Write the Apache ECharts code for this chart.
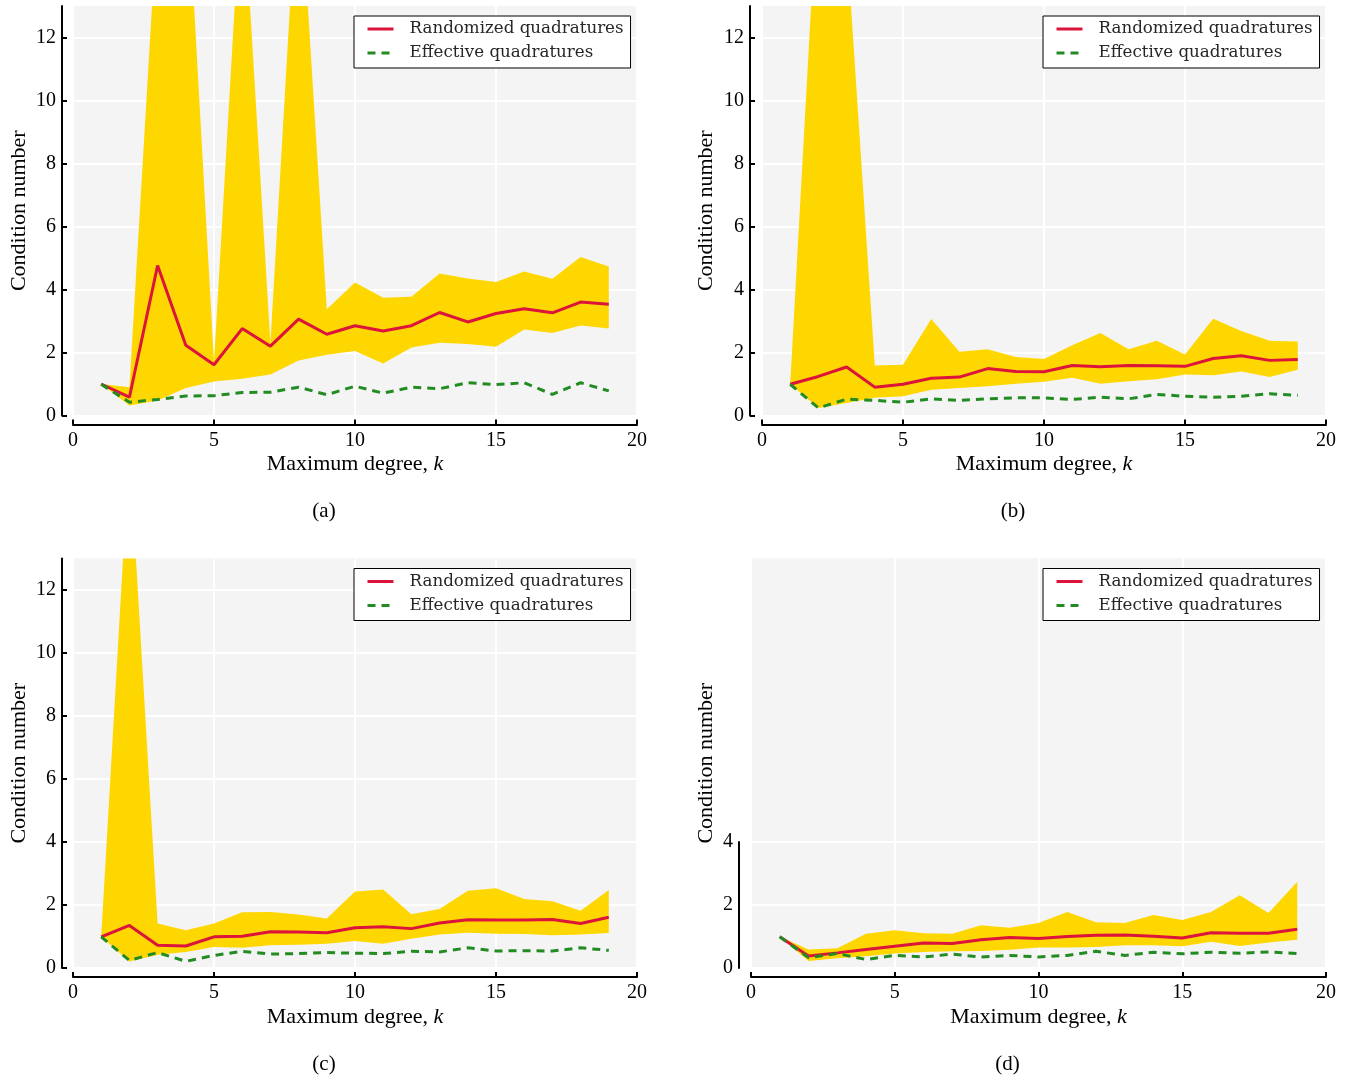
<!DOCTYPE html>
<html lang="en" style="height: 100%">
<head>
  <meta charset="utf-8">
  <script src="https://cdn.jsdelivr.net/npm/echarts@6/dist/echarts.min.js"></script>
</head>
<body style="height: 100%; margin: 0; background: #fff">
  <div id="container" style="width: 1356px; height: 1080px"></div>

  <script type="text/javascript">
    // x categories 0..20, the data sit at k = 1..19
    var xCats = ['0', '1', '2', '3', '4', '5', '6', '7', '8', '9', '10',
      '11', '12', '13', '14', '15', '16', '17', '18', '19', '20'];
    var yTicks = [0, 2, 4, 6, 8, 10, 12];
    var yTicksD = [0, 2, 4];

    // (a)
    var aRand = [1.0, 0.58, 4.76, 2.23, 1.61, 2.76, 2.20, 3.06, 2.58, 2.85, 2.68, 2.85, 3.27, 2.97, 3.24, 3.39, 3.26, 3.60, 3.53];
    var aEff = [0.99, 0.42, 0.51, 0.62, 0.63, 0.73, 0.74, 0.90, 0.66, 0.93, 0.71, 0.90, 0.85, 1.04, 0.98, 1.04, 0.67, 1.04, 0.78];
    var aLow = [1.0, 0.32, 0.48, 0.87, 1.08, 1.17, 1.30, 1.75, 1.93, 2.05, 1.65, 2.16, 2.31, 2.27, 2.18, 2.73, 2.62, 2.86, 2.76];
    var aUp = [1.0, 0.90, 16.0, 17.7, 1.70, 17.1, 2.30, 17.7, 3.37, 4.22, 3.74, 3.77, 4.51, 4.35, 4.24, 4.57, 4.34, 5.03, 4.73];

    // (b)
    var bRand = [0.99, 1.24, 1.54, 0.90, 0.99, 1.18, 1.22, 1.49, 1.40, 1.39, 1.59, 1.55, 1.59, 1.58, 1.56, 1.81, 1.90, 1.75, 1.78];
    var bEff = [0.99, 0.24, 0.52, 0.48, 0.42, 0.53, 0.48, 0.53, 0.56, 0.56, 0.51, 0.58, 0.53, 0.67, 0.61, 0.58, 0.61, 0.69, 0.64];
    var bLow = [0.99, 0.24, 0.40, 0.56, 0.61, 0.82, 0.87, 0.93, 1.01, 1.07, 1.20, 1.01, 1.09, 1.15, 1.30, 1.28, 1.40, 1.22, 1.45];
    var bUp = [1.0, 17.2, 15.1, 1.59, 1.61, 3.06, 2.02, 2.10, 1.86, 1.79, 2.23, 2.62, 2.10, 2.37, 1.94, 3.07, 2.68, 2.37, 2.35];

    // (c)
    var cRand = [0.99, 1.35, 0.72, 0.70, 0.99, 1.01, 1.15, 1.14, 1.12, 1.28, 1.31, 1.25, 1.43, 1.53, 1.52, 1.52, 1.54, 1.41, 1.61];
    var cEff = [0.99, 0.24, 0.49, 0.21, 0.40, 0.53, 0.44, 0.46, 0.49, 0.47, 0.46, 0.53, 0.51, 0.64, 0.54, 0.55, 0.54, 0.64, 0.56];
    var cLow = [0.99, 0.21, 0.42, 0.51, 0.67, 0.64, 0.72, 0.74, 0.77, 0.86, 0.77, 0.93, 1.06, 1.12, 1.09, 1.08, 1.04, 1.06, 1.11];
    var cUp = [1.0, 16.5, 1.41, 1.20, 1.41, 1.77, 1.78, 1.70, 1.57, 2.43, 2.49, 1.71, 1.87, 2.45, 2.53, 2.19, 2.12, 1.82, 2.48];

    // (d)
    var dRand = [0.99, 0.38, 0.48, 0.59, 0.69, 0.79, 0.78, 0.90, 0.97, 0.94, 1.00, 1.04, 1.05, 1.01, 0.95, 1.12, 1.10, 1.10, 1.23];
    var dEff = [0.99, 0.33, 0.46, 0.27, 0.40, 0.35, 0.44, 0.35, 0.40, 0.35, 0.40, 0.53, 0.40, 0.50, 0.45, 0.50, 0.47, 0.51, 0.46];
    var dLow = [0.99, 0.22, 0.31, 0.37, 0.46, 0.51, 0.53, 0.54, 0.58, 0.65, 0.65, 0.67, 0.72, 0.72, 0.69, 0.83, 0.70, 0.81, 0.90];
    var dUp = [1.0, 0.59, 0.63, 1.09, 1.20, 1.10, 1.09, 1.36, 1.28, 1.43, 1.78, 1.45, 1.43, 1.68, 1.52, 1.78, 2.31, 1.75, 2.74];

    var SERIF = "'Liberation Serif', 'DejaVu Serif', serif";
    var LEG_FONT = "'DejaVu Serif', serif";
    var RED = '#DC143C', GREEN = '#228B22', GOLD = '#FFD700';

    function pad(arr) { return [null].concat(arr); }

    var dom = document.getElementById('container');
    var myChart = echarts.init(dom, null, { renderer: 'canvas' });

    var panels = [
      { rand: aRand, eff: aEff, low: aLow, up: aUp, left: 73, top: 6, width: 564, yOff: 11, nameGap: 32, cap: '(a)' },
      { rand: bRand, eff: bEff, low: bLow, up: bUp, left: 762, top: 6, width: 564, yOff: 12, nameGap: 33, cap: '(b)' },
      { rand: cRand, eff: cEff, low: cLow, up: cUp, left: 73, top: 558.5, width: 564, yOff: 11, nameGap: 32, cap: '(c)' },
      { rand: dRand, eff: dEff, low: dLow, up: dUp, left: 751, top: 558.5, width: 575, yOff: 12, nameGap: 22, cap: '(d)' }
    ];
    var H = 409.5;

    var grids = [], xAxes = [], yAxes = [], series = [], legends = [], graphics = [];

    var axisLineStyle = { show: true, onZero: false, lineStyle: { color: '#000', width: 2 } };
    var tickStyle = { color: '#000', width: 2 };
    var labelStyle = { color: '#000', fontFamily: SERIF, fontSize: 20 };
    var nameStyle = {
      color: '#000', fontFamily: SERIF, fontSize: 22,
      rich: {
        n: { fontFamily: SERIF, fontSize: 22, color: '#000' },
        k: { fontFamily: SERIF, fontSize: 22, fontStyle: 'italic', color: '#000' }
      }
    };

    panels.forEach(function (p, i) {
      var isD = i === 3;
      grids.push({
        left: p.left, top: p.top, width: p.width, height: H,
        show: true, backgroundColor: '#f4f4f4', borderWidth: 0
      });
      xAxes.push({
        type: 'category', gridIndex: i, data: xCats, boundaryGap: false, offset: 9,
        axisLine: axisLineStyle,
        axisTick: { inside: true, length: 5, interval: 4, lineStyle: tickStyle },
        axisLabel: Object.assign({ interval: 4, margin: 6 }, labelStyle),
        splitLine: { show: true, interval: 4, lineStyle: { color: '#fff', width: 2 } },
        name: '{n|Maximum degree, }{k|k}', nameLocation: 'middle', nameGap: 29,
        nameTextStyle: nameStyle
      });
      yAxes.push({
        type: 'value', gridIndex: i, min: 0, max: 13, interval: 2, offset: p.yOff,
        axisLine: isD ? { show: false } : axisLineStyle,
        axisTick: { show: !isD, inside: true, length: 5, customValues: yTicks, lineStyle: tickStyle },
        axisLabel: Object.assign({ show: !isD, margin: 6, customValues: yTicks }, labelStyle),
        splitLine: { show: !isD, lineStyle: { color: '#fff', width: 2 } },
        name: 'Condition number', nameLocation: 'middle', nameGap: p.nameGap,
        nameTextStyle: { color: '#000', fontFamily: SERIF, fontSize: 22 }
      });

      var diff = p.up.map(function (v, j) { return +(v - p.low[j]).toFixed(3); });
      series.push({
        name: 'lo' + i, type: 'line', xAxisIndex: i, yAxisIndex: i, stack: 'band' + i,
        data: pad(p.low), symbol: 'none', silent: true,
        lineStyle: { opacity: 0 }
      });
      series.push({
        name: 'band' + i, type: 'line', xAxisIndex: i, yAxisIndex: i, stack: 'band' + i,
        data: pad(diff), symbol: 'none', silent: true,
        lineStyle: { opacity: 0, width: 0 },
        areaStyle: { color: GOLD, opacity: 1 }
      });
      series.push({
        name: 'Randomized quadratures', type: 'line', xAxisIndex: i, yAxisIndex: i,
        data: pad(p.rand), symbol: 'none', color: RED,
        lineStyle: { color: RED, width: 3 }
      });
      series.push({
        name: 'Effective quadratures', type: 'line', xAxisIndex: i, yAxisIndex: i,
        data: pad(p.eff), symbol: 'none', color: GREEN,
        lineStyle: { color: GREEN, width: 3, type: [8, 6] }
      });

      var legLeft = p.left + p.width - 283;
      legends.push({
        data: ['Randomized quadratures', 'Effective quadratures'],
        orient: 'vertical', left: legLeft, top: p.top + 10,
        padding: [3, 7, 5, 12], itemGap: 4, itemWidth: 26, itemHeight: 14,
        backgroundColor: '#fff', borderColor: '#000', borderWidth: 1, borderRadius: 0,
        selectedMode: false,
        itemStyle: { opacity: 0 },
        lineStyle: { width: 3 },
        textStyle: { fontFamily: LEG_FONT, fontSize: 16.7, color: '#262626', lineHeight: 20, padding: [0, 0, 0, 11] }
      });

      graphics.push({
        type: 'text', x: p.left + p.width / 2 - 31, y: p.top + H + 96,
        style: { text: p.cap, align: 'center', verticalAlign: 'middle', fontFamily: SERIF, fontSize: 21, fill: '#000' }
      });
    });

    // trimmed spine of panel (d): its own small grid over 0..4
    var dTop = 558.5 + H * 9 / 13;
    grids.push({ left: 751, top: dTop, width: 575, height: H * 4 / 13, show: false });
    xAxes.push({ type: 'category', gridIndex: 4, data: xCats, boundaryGap: false, show: false });
    yAxes.push({
      type: 'value', gridIndex: 4, min: 0, max: 4, interval: 2, offset: 12,
      axisLine: axisLineStyle,
      axisTick: { inside: true, length: 5, customValues: yTicksD, lineStyle: tickStyle },
      axisLabel: Object.assign({ margin: 6, customValues: yTicksD }, labelStyle),
      splitLine: { show: true, lineStyle: { color: '#fff', width: 2 } }
    });

    var option = {
      animation: false,
      backgroundColor: '#fff',
      grid: grids,
      xAxis: xAxes,
      yAxis: yAxes,
      legend: legends,
      series: series,
      graphic: graphics
    };

    myChart.setOption(option);
    window.addEventListener('resize', myChart.resize);
  </script>
</body>
</html>
